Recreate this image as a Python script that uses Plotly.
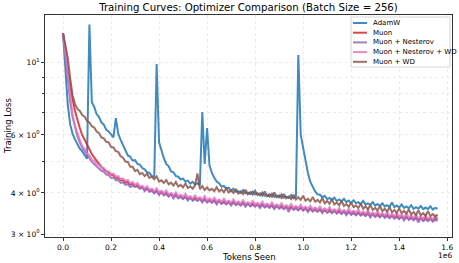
import plotly.graph_objects as go

# Token positions (millions), logged every 0.01e6 tokens
TOKENS_M = [i / 100 for i in range(157)]

ADAMW = [
    12.25, 9.50, 7.40, 6.45, 6.05, 5.82, 5.62, 5.45, 5.35, 5.20,
    5.08, 13.0, 7.55, 7.30, 6.95, 6.80, 6.55, 6.45, 6.22, 6.15,
    6.00, 5.90, 6.75, 6.05, 5.80, 5.58, 5.38, 5.20, 5.15, 5.02,
    5.03, 4.90, 4.88, 4.76, 4.72, 4.62, 4.60, 4.50, 4.47, 9.86,
    5.70, 5.35, 5.10, 4.90, 4.82, 4.65, 4.62, 4.50, 4.48, 4.40,
    4.42, 4.33, 4.36, 4.27, 4.32, 4.24, 4.28, 4.22, 7.05, 4.90,
    6.30, 4.85, 4.60, 4.45, 4.33, 4.28, 4.18, 4.20, 4.12, 4.15,
    4.06, 4.12, 4.03, 4.05, 4.00, 4.08, 3.99, 4.01, 3.97, 4.04,
    3.96, 3.99, 3.93, 4.01, 3.92, 3.95, 3.90, 3.98, 3.89, 3.93,
    3.88, 3.96, 3.87, 3.90, 3.86, 3.94, 3.85, 3.90, 10.5, 6.00,
    5.45, 4.95, 4.60, 4.32, 4.15, 4.04, 3.96, 3.95, 3.88, 3.92,
    3.83, 3.86, 3.81, 3.87, 3.78, 3.82, 3.77, 3.84, 3.75, 3.79,
    3.73, 3.80, 3.72, 3.75, 3.70, 3.78, 3.69, 3.72, 3.68, 3.75,
    3.66, 3.70, 3.65, 3.72, 3.64, 3.67, 3.63, 3.74, 3.62, 3.66,
    3.61, 3.69, 3.60, 3.64, 3.59, 3.67, 3.58, 3.62, 3.58, 3.65,
    3.57, 3.61, 3.57, 3.64, 3.56, 3.60, 3.58,
]

MUON = [
    12.25, 11.00, 9.50, 8.50, 7.70, 7.10, 6.65, 6.30, 6.00, 5.80,
    5.60, 5.45, 5.25, 5.12, 5.00, 4.90, 4.80, 4.72, 4.66, 4.60,
    4.55, 4.52, 4.45, 4.44, 4.37, 4.37, 4.30, 4.32, 4.24, 4.27,
    4.19, 4.22, 4.14, 4.17, 4.09, 4.13, 4.05, 4.09, 4.01, 4.06,
    3.98, 4.03, 3.95, 4.00, 3.92, 3.97, 3.89, 3.95, 3.87, 3.92,
    3.85, 3.90, 3.83, 3.88, 3.81, 3.86, 3.80, 3.85, 3.78, 3.83,
    3.76, 3.82, 3.75, 3.80, 3.73, 3.79, 3.72, 3.77, 3.71, 3.76,
    3.70, 3.75, 3.69, 3.74, 3.68, 3.73, 3.67, 3.72, 3.66, 3.71,
    3.65, 3.70, 3.64, 3.69, 3.63, 3.68, 3.62, 3.67, 3.61, 3.66,
    3.60, 3.65, 3.59, 3.64, 3.58, 3.63, 3.57, 3.62, 3.56, 3.61,
    3.55, 3.60, 3.54, 3.59, 3.53, 3.58, 3.52, 3.57, 3.51, 3.56,
    3.50, 3.55, 3.49, 3.54, 3.48, 3.53, 3.47, 3.52, 3.46, 3.51,
    3.45, 3.50, 3.44, 3.49, 3.43, 3.48, 3.42, 3.47, 3.41, 3.46,
    3.40, 3.45, 3.39, 3.44, 3.38, 3.43, 3.37, 3.42, 3.36, 3.41,
    3.35, 3.40, 3.34, 3.39, 3.33, 3.38, 3.33, 3.37, 3.32, 3.36,
    3.31, 3.36, 3.31, 3.35, 3.30, 3.35, 3.32,
]

MUON_NESTEROV = [
    12.25, 10.40, 8.70, 7.55, 6.80, 6.30, 5.95, 5.70, 5.48, 5.36,
    5.20, 5.10, 4.97, 4.90, 4.80, 4.75, 4.67, 4.64, 4.55, 4.53,
    4.45, 4.45, 4.37, 4.38, 4.29, 4.31, 4.23, 4.25, 4.17, 4.20,
    4.17, 4.19, 4.12, 4.16, 4.05, 4.12, 4.03, 4.06, 3.99, 4.05,
    3.94, 4.02, 3.93, 3.97, 3.90, 3.96, 3.85, 3.94, 3.85, 3.89,
    3.83, 3.89, 3.79, 3.87, 3.79, 3.83, 3.78, 3.84, 3.74, 3.82,
    3.74, 3.79, 3.73, 3.79, 3.69, 3.78, 3.70, 3.74, 3.69, 3.75,
    3.66, 3.74, 3.67, 3.71, 3.66, 3.72, 3.63, 3.71, 3.64, 3.68,
    3.63, 3.69, 3.60, 3.68, 3.61, 3.65, 3.60, 3.66, 3.57, 3.65,
    3.58, 3.62, 3.57, 3.63, 3.50, 3.62, 3.55, 3.59, 3.54, 3.60,
    3.53, 3.59, 3.50, 3.58, 3.51, 3.55, 3.50, 3.56, 3.47, 3.55,
    3.48, 3.52, 3.47, 3.53, 3.46, 3.50, 3.45, 3.51, 3.42, 3.50,
    3.43, 3.47, 3.42, 3.48, 3.41, 3.45, 3.40, 3.46, 3.37, 3.45,
    3.38, 3.42, 3.37, 3.43, 3.36, 3.40, 3.35, 3.41, 3.34, 3.38,
    3.33, 3.39, 3.30, 3.38, 3.31, 3.35, 3.30, 3.36, 3.25, 3.35,
    3.28, 3.32, 3.28, 3.33, 3.27, 3.31, 3.29,
]

MUON_NESTEROV_WD = [
    12.25, 10.60, 8.90, 7.70, 6.90, 6.40, 6.05, 5.80, 5.55, 5.45,
    5.28, 5.20, 5.05, 5.00, 4.90, 4.86, 4.78, 4.76, 4.66, 4.65,
    4.56, 4.58, 4.48, 4.50, 4.40, 4.43, 4.35, 4.38, 4.28, 4.32,
    4.23, 4.29, 4.18, 4.21, 4.13, 4.19, 4.09, 4.12, 4.05, 4.13,
    4.02, 4.06, 3.99, 4.07, 3.96, 4.00, 3.93, 4.02, 3.91, 3.95,
    3.89, 3.97, 3.87, 3.91, 3.85, 3.93, 3.84, 3.88, 3.82, 3.91,
    3.80, 3.85, 3.79, 3.87, 3.77, 3.82, 3.76, 3.84, 3.75, 3.79,
    3.74, 3.82, 3.73, 3.77, 3.72, 3.80, 3.71, 3.75, 3.70, 3.78,
    3.69, 3.73, 3.68, 3.76, 3.67, 3.71, 3.66, 3.74, 3.65, 3.69,
    3.64, 3.72, 3.63, 3.67, 3.62, 3.70, 3.61, 3.65, 3.60, 3.68,
    3.59, 3.63, 3.58, 3.66, 3.57, 3.61, 3.56, 3.64, 3.55, 3.59,
    3.54, 3.62, 3.53, 3.57, 3.52, 3.60, 3.51, 3.55, 3.50, 3.58,
    3.49, 3.53, 3.48, 3.56, 3.47, 3.51, 3.46, 3.54, 3.45, 3.49,
    3.44, 3.52, 3.43, 3.47, 3.42, 3.50, 3.41, 3.45, 3.40, 3.48,
    3.39, 3.43, 3.38, 3.46, 3.37, 3.41, 3.36, 3.44, 3.35, 3.39,
    3.34, 3.42, 3.34, 3.37, 3.33, 3.41, 3.35,
]

MUON_WD = [
    12.25, 11.30, 10.30, 8.90, 7.90, 7.45, 7.20, 7.10, 6.90, 6.82,
    6.62, 6.55, 6.38, 6.32, 6.15, 6.08, 5.90, 5.86, 5.72, 5.70,
    5.52, 5.50, 5.36, 5.33, 5.17, 5.12, 4.98, 4.97, 4.80, 4.80,
    4.66, 4.70, 4.56, 4.60, 4.50, 4.57, 4.44, 4.48, 4.40, 4.49,
    4.33, 4.37, 4.29, 4.38, 4.25, 4.30, 4.21, 4.32, 4.18, 4.23,
    4.16, 4.27, 4.14, 4.19, 4.12, 4.22, 4.58, 4.11, 4.20, 4.08,
    4.16, 4.07, 4.12, 4.05, 4.16, 4.04, 4.10, 4.02, 4.13, 4.01,
    4.07, 4.00, 4.11, 3.98, 4.04, 3.97, 4.09, 3.96, 4.02, 3.95,
    4.06, 3.94, 3.99, 3.92, 4.04, 3.91, 3.96, 3.89, 4.01, 3.88,
    3.93, 3.86, 3.97, 3.85, 3.90, 3.83, 3.95, 3.82, 3.88, 3.81,
    3.92, 3.79, 3.84, 3.77, 3.89, 3.76, 3.81, 3.74, 3.86, 3.72,
    3.78, 3.71, 3.83, 3.69, 3.74, 3.67, 3.78, 3.65, 3.70, 3.63,
    3.74, 3.62, 3.66, 3.60, 3.71, 3.58, 3.64, 3.56, 3.68, 3.55,
    3.60, 3.54, 3.65, 3.52, 3.58, 3.51, 3.62, 3.49, 3.55, 3.48,
    3.59, 3.47, 3.53, 3.46, 3.56, 3.44, 3.50, 3.43, 3.54, 3.42,
    3.47, 3.41, 3.52, 3.40, 3.45, 3.39, 3.44,
]

SERIES_NAMES = ["AdamW", "Muon", "Muon + Nesterov", "Muon + Nesterov + WD", "Muon + WD"]
SERIES_VALUES = [ADAMW, MUON, MUON_NESTEROV, MUON_NESTEROV_WD, MUON_WD]
COLORS = ["#1f77b4", "#d62728", "#9467bd", "#e377c2", "#8c564b"]

X_TICKS = [0.0, 0.2, 0.4, 0.6, 0.8, 1.0, 1.2, 1.4, 1.6]
Y_TICKS = [3, 4, 6, 10]
Y_TICK_TEXT = ["3 × 10<sup>0</sup>", "4 × 10<sup>0</sup>", "6 × 10<sup>0</sup>", "10<sup>1</sup>"]
Y_MINOR = [5, 7, 8, 9]

for v in SERIES_VALUES:
    assert len(v) == len(TOKENS_M), len(v)

x_tokens = [t * 1e6 for t in TOKENS_M]

FONT = "DejaVu Sans"
fig = go.Figure()
for name, vals, col in zip(SERIES_NAMES, SERIES_VALUES, COLORS):
    fig.add_trace(go.Scatter(x=x_tokens, y=vals, mode="lines", name=name,
                             line=dict(color=col, width=2), opacity=0.85,
                             showlegend=False, hoverinfo="skip"))

# plot area in pixels: x 45..452, y 15..237
L, R, T, B = 45, 7, 15, 26
W, H = 459, 263
pw, ph = W - L - R, H - T - B

def px(xp):
    return (xp - L) / pw

def py(yp):
    return 1 - (yp - T) / ph

shapes = [dict(type="rect", xref="paper", yref="paper",
               x0=px(351), x1=px(450), y0=py(67), y1=py(17),
               fillcolor="rgba(255,255,255,0.85)", line=dict(color="#cccccc", width=0.8),
               layer="above")]
annotations = []
for i, (name, col) in enumerate(zip(SERIES_NAMES, COLORS)):
    yy = 23 + 9.7 * i
    shapes.append(dict(type="line", xref="paper", yref="paper",
                       x0=px(353), x1=px(367), y0=py(yy), y1=py(yy),
                       line=dict(color=col, width=2), opacity=0.85, layer="above"))
    annotations.append(dict(text=name, xref="paper", yref="paper", x=px(371), y=py(yy),
                            xanchor="left", yanchor="middle", showarrow=False,
                            font=dict(family=FONT, size=7, color="black")))

annotations.append(dict(text="Tokens Seen", xref="paper", yref="paper", x=0.5, y=py(257),
                        xanchor="center", yanchor="middle", showarrow=False,
                        font=dict(family=FONT, size=8.5, color="black")))
annotations.append(dict(text="Training Loss", xref="paper", yref="paper", x=px(8), y=0.5,
                        xanchor="center", yanchor="middle", showarrow=False, textangle=-90,
                        font=dict(family=FONT, size=8.5, color="black")))
annotations.append(dict(text="1e6", xref="paper", yref="paper", x=px(454), y=py(255.5),
                        xanchor="right", yanchor="middle", showarrow=False,
                        font=dict(family=FONT, size=7.5, color="black")))

fig.update_layout(
    width=W, height=H,
    margin=dict(l=L, r=R, t=T, b=B),
    paper_bgcolor="white", plot_bgcolor="white",
    title=dict(text="Training Curves: Optimizer Comparison (Batch Size = 256)",
               x=(L + pw / 2) / W, xanchor="center", y=1 - 7.5 / H, yanchor="middle",
               font=dict(family=FONT, size=10.2, color="black")),
    font=dict(family=FONT, size=7.5, color="black"),
    shapes=shapes, annotations=annotations,
    showlegend=False, hovermode=False,
)
fig.update_xaxes(
    range=[-0.075e6, 1.62e6],
    tickvals=[t * 1e6 for t in X_TICKS], ticktext=[f"{t:.1f}" for t in X_TICKS],
    ticks="outside", ticklen=3, tickwidth=0.8, tickcolor="#333",
    showline=True, linecolor="#333", linewidth=1, mirror=True,
    showgrid=True, gridcolor="#ebebeb", gridwidth=0.8, griddash="dot",
    zeroline=False, tickfont=dict(family=FONT, size=7.5),
)
fig.update_yaxes(
    type="log", range=[0.468, 1.143],
    tickvals=Y_TICKS, ticktext=Y_TICK_TEXT,
    ticks="outside", ticklen=3, tickwidth=0.8, tickcolor="#333",
    showline=True, linecolor="#333", linewidth=1, mirror=True,
    showgrid=True, gridcolor="#ebebeb", gridwidth=0.8, griddash="dot",
    minor=dict(tickvals=Y_MINOR, ticks="outside", ticklen=2, tickcolor="#333",
               showgrid=True, gridcolor="#ebebeb", gridwidth=0.8, griddash="dot"),
    zeroline=False, tickfont=dict(family=FONT, size=7.5),
)

fig.write_html("out.html", config={"displayModeBar": False},
               post_script="document.body.style.margin='0px';")
